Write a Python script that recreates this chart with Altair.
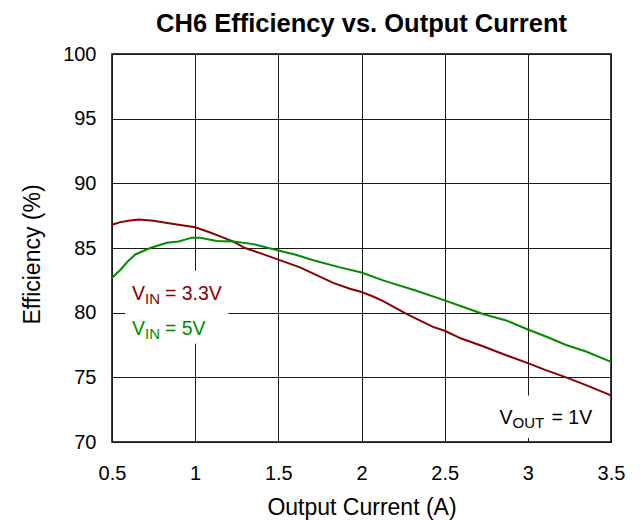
import altair as alt
import pandas as pd

# ---- data ----
current_33 = [0.5, 0.55, 0.6, 0.66, 0.75, 0.85, 1.0, 1.09, 1.15, 1.23, 1.3, 1.39, 1.5,
              1.63, 1.73, 1.83, 1.93, 2.0, 2.07, 2.13, 2.27, 2.43, 2.5, 2.6, 2.73, 2.85, 3.0,
              3.1, 3.23, 3.35, 3.5]
eff_33 = [86.8, 87.0, 87.1, 87.2, 87.1, 86.9, 86.6, 86.2, 85.9, 85.5, 85.0, 84.6, 84.1,
          83.5, 82.9, 82.3, 81.85, 81.6, 81.25, 80.9, 79.9, 78.9, 78.6, 78.0, 77.4, 76.8, 76.1,
          75.6, 75.0, 74.4, 73.6]

current_5 = [0.5, 0.55, 0.59, 0.64, 0.73, 0.83, 0.9, 0.98, 1.03, 1.13, 1.23, 1.35, 1.5,
             1.6, 1.71, 1.87, 2.0, 2.13, 2.33, 2.5, 2.6, 2.73, 2.87, 3.0, 3.12, 3.23,
             3.35, 3.5]
eff_5 = [82.7, 83.3, 83.9, 84.5, 85.0, 85.4, 85.5, 85.8, 85.8, 85.55, 85.5, 85.3, 84.8,
         84.5, 84.05, 83.5, 83.1, 82.5, 81.7, 80.95, 80.5, 79.9, 79.4, 78.7, 78.1, 77.5,
         77.0, 76.2]

series_names = ["3.3V", "5V"]
x_ticks = [0.5, 1, 1.5, 2, 2.5, 3, 3.5]
y_ticks = [70, 75, 80, 85, 90, 95, 100]

RED = "#8B0000"
GREEN = "#008C00"
FONT = "Liberation Sans"

lines_df = pd.concat([
    pd.DataFrame({"x": current_33, "y": eff_33, "series": series_names[0]}),
    pd.DataFrame({"x": current_5, "y": eff_5, "series": series_names[1]}),
])

# white label boxes (annotation areas)
box_df = pd.DataFrame({"x": [0.58, 2.78], "x2": [1.2, 3.38], "y": [77.6, 70.3], "y2": [83.25, 73.6]})

# label pieces: main letter, subscript, rest
main_df = pd.DataFrame({"x": [0.62, 0.62, 2.83], "y": [81.0, 78.24, 71.4],
                        "t": ["V", "V", "V"], "c": [RED, GREEN, "#000000"]})
sub_df = pd.DataFrame({"x": [0.62, 0.62, 2.83], "y": [81.0, 78.24, 71.4],
                       "t": ["IN", "IN", "OUT"], "c": [RED, GREEN, "#000000"]})
rest_in_df = pd.DataFrame({"x": [0.62, 0.62], "y": [81.0, 78.24],
                           "t": ["= 3.3V", "= 5V"], "c": [RED, GREEN]})
rest_out_df = pd.DataFrame({"x": [2.83], "y": [71.4], "t": ["= 1V"], "c": ["#000000"]})

W, H = 499, 388
xs = alt.Scale(domain=[0.5, 3.5], nice=False, zero=False)
ys = alt.Scale(domain=[70, 100], nice=False, zero=False)

x_axis = alt.Axis(values=x_ticks, format="~g", title="Output Current (A)", grid=True,
                  ticks=False, tickSize=0, domain=False, labelPadding=21, labelFlush=False,
                  titleX=W / 2, titleY=65, titleBaseline="middle", titleAlign="center")
y_axis = alt.Axis(values=y_ticks, title="Efficiency (%)", grid=True, ticks=False,
                  tickSize=0, domain=False, labelPadding=16, labelFlush=False,
                  titleX=-80, titleY=H / 2 + 6, titleBaseline="middle", titleAlign="center",
                  titleAngle=270)

lines = alt.Chart(lines_df).mark_line(strokeWidth=2).encode(
    x=alt.X("x:Q", scale=xs, axis=x_axis),
    y=alt.Y("y:Q", scale=ys, axis=y_axis),
    color=alt.Color("series:N", scale=alt.Scale(domain=series_names, range=[RED, GREEN]), legend=None),
)

boxes = alt.Chart(box_df).mark_rect(fill="white").encode(
    x=alt.X("x:Q", scale=xs), x2="x2:Q",
    y=alt.Y("y:Q", scale=ys), y2="y2:Q",
)

def text_layer(df, size, dx, dy):
    return alt.Chart(df).mark_text(align="left", baseline="alphabetic", font=FONT,
                                   fontSize=size, dx=dx, dy=dy).encode(
        x=alt.X("x:Q", scale=xs),
        y=alt.Y("y:Q", scale=ys),
        text="t:N",
        color=alt.Color("c:N", scale=None),
    )

chart = alt.layer(
    boxes, lines,
    text_layer(main_df, 19.5, 0, 0),
    text_layer(sub_df, 15, 13, 4),
    text_layer(rest_in_df, 19.5, 33, 0),
    text_layer(rest_out_df, 19.5, 52, 0),
).properties(
    width=W, height=H,
    title=alt.TitleParams("CH6 Efficiency vs. Output Current", font=FONT, fontSize=25.5,
                          fontWeight="bold", color="#000000", anchor="middle", offset=7),
    autosize=alt.AutoSizeParams(type="none"),
    padding={"left": 104, "top": 46, "right": 20, "bottom": 78},
).configure_view(
    stroke="#000000", strokeWidth=1.5,
).configure_axis(
    labelFont=FONT, labelFontSize=20, labelColor="#000000",
    titleFont=FONT, titleFontSize=23, titleFontWeight="normal", titleColor="#000000",
    gridColor="#1a1a1a", gridWidth=1, gridOpacity=1,
)

chart.save("out.html", embed_options={"renderer": "svg", "actions": False})
